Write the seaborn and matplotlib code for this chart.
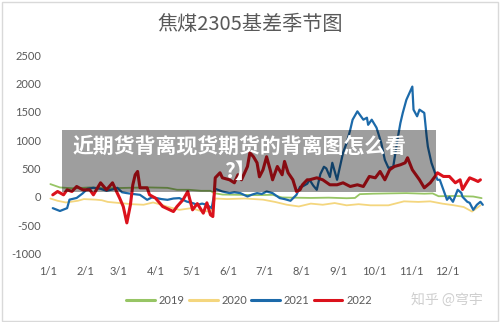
import matplotlib
matplotlib.use("Agg")
import matplotlib.pyplot as plt
from matplotlib.patches import Rectangle
from matplotlib.lines import Line2D
import seaborn as sns
import pandas as pd

# ---------------- data (day of year -> basis value) ----------------
days_2019 = [2, 10, 21, 35, 48, 60, 70, 85, 100, 108, 118, 128, 136, 139, 146, 160, 175, 188, 196, 205, 220, 235, 250, 257, 261, 272, 285, 300, 315, 322, 327, 340, 356, 363]
vals_2019 = [224, 165, 150, 165, 150, 155, 160, 165, 158, 124, 124, 106, 106, 65, 40, 35, 30, 35, -12, -15, -20, -15, -25, -20, 47, 55, 60, 65, 55, 60, 10, 15, 5, -23]

days_2020 = [2, 8, 15, 25, 30, 40, 45, 50, 60, 70, 80, 88, 95, 100, 110, 120, 128, 136, 140, 150, 165, 180, 190, 200, 210, 220, 230, 240, 250, 260, 270, 285, 298, 310, 320, 330, 340, 348, 355, 362]
vals_2020 = [-30, -70, -100, -70, -40, -50, -60, -90, -110, -130, -140, -100, -140, -175, -230, -200, -250, -260, -30, -40, -30, -50, -90, -140, -170, -120, -140, -110, -150, -130, -150, -150, -80, -90, -80, -120, -150, -180, -260, -150]

days_2021 = [4, 10, 16, 18, 24, 29, 33, 38, 44, 49, 54, 58, 62, 66, 71, 77, 83, 87, 91, 95, 100, 105, 110, 116, 121, 125, 129, 133, 137, 140, 146, 152, 156, 161, 167, 171, 175, 179, 183, 188, 194, 198, 203, 208, 211, 213, 217, 219, 222, 225, 228, 231, 233, 236, 238, 242, 247, 250, 253, 255, 259, 264, 267, 268, 271, 275, 279, 282, 285, 289, 293, 295, 297, 300, 305, 306, 309, 311, 315, 317, 318, 321, 324, 326, 328, 331, 334, 336, 339, 343, 346, 347, 351, 353, 356, 359, 362, 364]
vals_2021 = [-200, -250, -200, -50, -20, 60, 141, 160, 141, 106, 130, 159, 80, 65, 50, 35, -53, -10, -23, -40, -53, -30, -23, -83, -110, -141, -120, -141, -200, 141, 94, 65, 80, 65, 6, 40, 65, 50, 94, 65, -23, -40, -70, 35, 177, 182, 230, 300, 200, 124, 400, 530, 500, 350, 600, 300, 777, 950, 1180, 1360, 1507, 1360, 1395, 1270, 1360, 1220, 950, 650, 510, 530, 1060, 1300, 1480, 1710, 1944, 1537, 1420, 1537, 1480, 1060, 885, 600, 420, 300, 300, 124, -53, 0, -88, 124, 70, 0, -88, -106, -230, -141, -88, -141]

days_2022 = [4, 8, 13, 16, 20, 24, 29, 35, 38, 44, 49, 54, 58, 60, 63, 66, 69, 71, 73, 75, 77, 83, 85, 90, 96, 105, 108, 113, 117, 121, 125, 130, 133, 136, 138, 140, 144, 146, 152, 156, 159, 162, 167, 169, 172, 175, 177, 180, 183, 186, 188, 192, 196, 198, 201, 205, 208, 211, 213, 217, 219, 225, 230, 236, 242, 247, 253, 259, 264, 269, 274, 278, 282, 286, 290, 295, 299, 301, 305, 309, 311, 315, 320, 324, 326, 331, 336, 341, 345, 347, 351, 353, 357, 360, 362]
vals_2022 = [35, 94, 35, 124, 94, 182, 124, 124, 35, 247, 124, 247, 65, -23, -171, -460, -141, 212, 389, 447, 159, 159, 35, -23, -171, -260, -171, -53, 94, -230, -120, -289, -106, -318, -348, 335, 424, 335, 300, 247, 389, 300, 535, 777, 707, 600, 353, 477, 707, 477, 300, 535, 389, 624, 424, 300, 94, 124, 212, 300, 300, 335, 300, 212, 212, 247, 182, 212, 182, 359, 335, 447, 300, 477, 535, 565, 600, 689, 477, 359, 300, 159, 247, 359, 424, 359, 359, 247, 300, 130, 270, 335, 300, 270, 300]

month_ticks = [0, 31, 59, 90, 120, 151, 181, 212, 243, 273, 304, 334]
month_labels = ["1/1", "2/1", "3/1", "4/1", "5/1", "6/1", "7/1", "8/1", "9/1", "10/1", "11/1", "12/1"]
y_ticks = [-1000, -500, 0, 500, 1000, 1500, 2000, 2500]

series = [
    ("2019", days_2019, vals_2019, "#97c565", 1.3),
    ("2020", days_2020, vals_2020, "#f4d67e", 1.3),
    ("2021", days_2021, vals_2021, "#1c6aaa", 1.6),
    ("2022", days_2022, vals_2022, "#db121c", 2.2),
]

# ---------------- plot ----------------
sns.set_theme(style="white")
plt.rcParams["font.family"] = ["Noto Sans CJK SC", "DejaVu Sans"]

fig = plt.figure(figsize=(5.0, 3.22), dpi=100)
ax = fig.add_axes([0.096, 0.2127, 0.872, 0.6163])

for name, d, v, c, lw in series:
    df = pd.DataFrame({"day": d, "value": v})
    sns.lineplot(data=df, x="day", y="value", ax=ax, color=c, linewidth=lw,
                 estimator=None, sort=False)

ax.set_xlim(0, 365)
ax.set_ylim(-1000, 2500)
ax.set_xticks(month_ticks)
ax.set_xticklabels(month_labels)
ax.set_yticks(y_ticks)
ax.set_yticklabels([str(t) for t in y_ticks])
ax.set_xlabel("")
ax.set_ylabel("")
for s in ax.spines.values():
    s.set_visible(False)
ax.tick_params(axis="both", length=0, colors="#595959", labelsize=8)
ax.tick_params(axis="y", pad=5)
ax.tick_params(axis="x", pad=9)
for lab in ax.get_xticklabels() + ax.get_yticklabels():
    lab.set_family(["Lato", "DejaVu Sans"])

fig.text(0.5, 0.925, "焦煤2305基差季节图", ha="center", va="center",
         fontsize=14.5, color="#595959")

handles = [Line2D([0], [0], color=c, lw=2.2) for _, _, _, c, _ in series]
leg = fig.legend(handles, [s[0] for s in series], loc="center", ncol=4,
                 bbox_to_anchor=(0.498, 0.066), frameon=False, fontsize=8,
                 handlelength=2.6, handletextpad=0.35, columnspacing=0.35)
for t in leg.get_texts():
    t.set_color("#595959")
    t.set_family(["Lato", "DejaVu Sans"])

fig.text(0.894, 0.066, "知乎 @穹宇", ha="center", va="center", fontsize=10,
         color="#cfcfcf")

# overlay banner
fig.add_artist(Rectangle((0.124, 0.4037), 0.748, 0.1925, transform=fig.transFigure,
                         facecolor="black", alpha=0.38, edgecolor="none", zorder=5))
fig.text(0.48, 0.5466, "近期货背离现货期货的背离图怎么看", ha="center", va="center",
         fontsize=15, fontweight="black", color="white", zorder=6)
fig.text(0.479, 0.466, "?】", ha="center", va="center",
         fontsize=15, fontweight="black", color="white", zorder=6)

# outer chart border
fig.add_artist(Rectangle((0.004, 0.004), 0.992, 0.99, transform=fig.transFigure,
                         facecolor="none", edgecolor="#d9d9d9", lw=1.0, zorder=0))

fig.savefig("out.png", dpi=100)
